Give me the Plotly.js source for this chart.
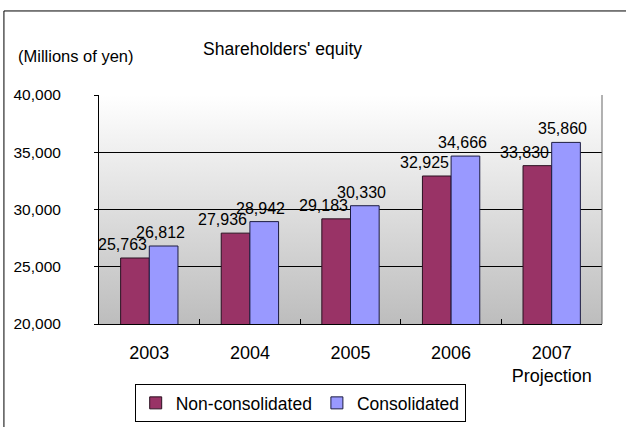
<!DOCTYPE html>
<html>
<head>
<meta charset="utf-8">
<script src="https://cdn.plot.ly/plotly-3.0.1.min.js"></script>
<style>html,body{margin:0;padding:0;background:#fff;}#chart{width:626px;height:427px;}</style>
</head>
<body>
<div id="chart"></div>
<script>
const categories = ['2003', '2004', '2005', '2006', '2007<br>Projection'];
const nonConsolidated = [25763, 27936, 29183, 32925, 33830];
const consolidated = [26812, 28942, 30330, 34666, 35860];
const seriesNames = ['Non-consolidated', 'Consolidated'];
const yTickValues = [20000, 25000, 30000, 35000, 40000];

const FONT = 'Liberation Sans, Arial, sans-serif';
const fmt = v => v.toLocaleString('en-US');

const gradSvg = '<svg xmlns="http://www.w3.org/2000/svg" width="10" height="100" preserveAspectRatio="none">' +
  '<defs><linearGradient id="g" x1="0" y1="0" x2="0" y2="1">' +
  '<stop offset="0" stop-color="#ffffff"/><stop offset="1" stop-color="#bdbdbd"/></linearGradient></defs>' +
  '<rect width="10" height="100" fill="url(#g)"/></svg>';
const gradUri = 'data:image/svg+xml;base64,' + btoa(gradSvg);

const traces = [
  {type: 'bar', name: seriesNames[0], x: categories, y: nonConsolidated,
   marker: {color: '#993366', line: {color: '#2a1020', width: 1}}, hoverinfo: 'skip'},
  {type: 'bar', name: seriesNames[1], x: categories, y: consolidated,
   marker: {color: '#9999ff', line: {color: '#1c1c40', width: 1}}, hoverinfo: 'skip'}
];

const annotations = [];
categories.forEach((c, i) => {
  annotations.push({x: i, y: nonConsolidated[i], text: fmt(nonConsolidated[i]), showarrow: false,
    xref: 'x', yref: 'y', xanchor: 'center', yanchor: 'bottom', xshift: -27, yshift: 3,
    font: {family: FONT, size: 16, color: '#000'}});
  annotations.push({x: i, y: consolidated[i], text: fmt(consolidated[i]), showarrow: false,
    xref: 'x', yref: 'y', xanchor: 'center', yanchor: 'bottom', xshift: 11, yshift: 3,
    font: {family: FONT, size: 16, color: '#000'}});
});
annotations.push({text: 'Shareholders\' equity', xref: 'paper', yref: 'paper', x: 0.364, y: 1.2,
  xanchor: 'center', yanchor: 'middle', showarrow: false, font: {family: FONT, size: 17.5, color: '#000'}});
annotations.push({text: '(Millions of yen)', xref: 'paper', yref: 'paper', x: -0.166, y: 1.172,
  xanchor: 'left', yanchor: 'middle', showarrow: false, font: {family: FONT, size: 16.5, color: '#000'}});

const layout = {
  width: 626, height: 427,
  margin: {l: 99, r: 24, t: 95, b: 103, autoexpand: false},
  paper_bgcolor: '#ffffff',
  plot_bgcolor: 'rgba(0,0,0,0)',
  barmode: 'group',
  bargap: 0.43,
  bargroupgap: 0,
  showlegend: true,
  legend: {orientation: 'h', x: 0.4, xanchor: 'center', y: -0.262, yanchor: 'top',
    bgcolor: '#ffffff', bordercolor: '#000', borderwidth: 1,
    font: {family: FONT, size: 17.5, color: '#000'}, traceorder: 'normal'},
  xaxis: {type: 'category', categoryarray: categories, categoryorder: 'array',
    range: [-0.5, categories.length - 0.5], autorange: false, automargin: false,
    tickson: 'boundaries', ticks: 'inside', ticklen: 5, tickcolor: '#000',
    showline: true, linecolor: '#000', linewidth: 1, mirror: false, showgrid: false,
    tickangle: 0, tickfont: {family: FONT, size: 18, color: '#000'}, ticklabelstandoff: 12, fixedrange: true},
  yaxis: {range: [20000, 40000], autorange: false, automargin: false, tickvals: yTickValues, tickformat: ',', ticks: 'outside', ticklen: 4,
    tickcolor: '#000', showline: true, linecolor: '#000', linewidth: 1, mirror: false,
    showgrid: true, gridcolor: '#000', gridwidth: 1, zeroline: false,
    tickfont: {family: FONT, size: 15.5, color: '#000'}, ticklabelstandoff: 30, fixedrange: true},
  images: [{source: gradUri, xref: 'paper', yref: 'paper', x: 0, y: 1, sizex: 1, sizey: 1,
    sizing: 'stretch', xanchor: 'left', yanchor: 'top', layer: 'below'}],
  shapes: [
    {type: 'line', xref: 'paper', yref: 'paper', x0: 1, x1: 1, y0: 0, y1: 1, line: {color: '#666', width: 1}},
    {type: 'rect', xref: 'paper', yref: 'paper', x0: -0.189, x1: 1.2, y0: -0.6, y1: 1.367,
     line: {color: '#000', width: 1}, fillcolor: 'rgba(0,0,0,0)', layer: 'below'}
  ],
  annotations: annotations
};

Plotly.newPlot('chart', traces, layout, {displayModeBar: false, staticPlot: true});
</script>
</body>
</html>
